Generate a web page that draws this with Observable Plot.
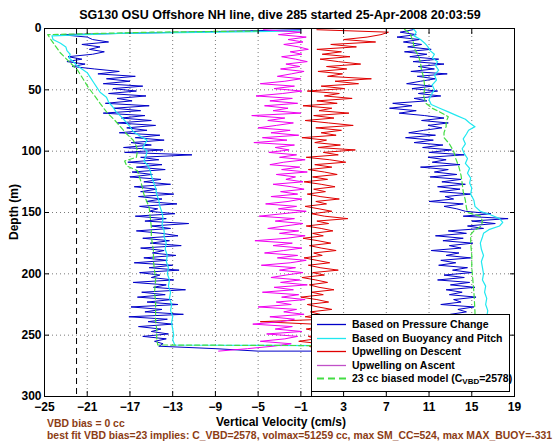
<!DOCTYPE html>
<html><head><meta charset="utf-8">
<script src="https://cdn.jsdelivr.net/npm/d3@7"></script>
<script src="https://cdn.jsdelivr.net/npm/@observablehq/plot@0.6"></script>
<style>
body{margin:0;background:#fff;font-family:"Liberation Sans",Arial,Helvetica,sans-serif;}
#wrap{position:relative;width:560px;height:442px;overflow:hidden;background:#fff;}
#chart{position:absolute;left:0;top:0;}
.t{position:absolute;font-weight:bold;white-space:nowrap;}
#title{left:44px;width:472px;top:8px;text-align:center;font-size:12.5px;line-height:14px;color:#000;}
#xlabel{left:181px;width:200px;top:416px;text-align:center;font-size:12px;line-height:13px;color:#000;}
#ylabel{left:-36px;width:100px;top:205px;text-align:center;font-size:12px;line-height:14px;color:#000;transform:rotate(-90deg);}
.foot{left:47px;font-size:10.4px;line-height:12px;color:#8c3c14;}
#legend{position:absolute;left:311px;top:314px;width:197px;height:76px;border:1px solid #000;background:#fff;}
.lrow{position:absolute;left:0;height:13px;}
.lrow svg{position:absolute;left:5px;top:3px;}
.lrow span{position:absolute;left:40px;top:0;font-size:10.5px;line-height:13px;font-weight:bold;white-space:nowrap;}
.lrow sub{font-size:8px;vertical-align:-2px;}
</style></head>
<body>
<div id="wrap">
  <div id="chart"></div>
  <div id="title" class="t"></div>
  <div id="ylabel" class="t"></div>
  <div id="xlabel" class="t"></div>
  <div id="foot1" class="t foot" style="top:418px"></div>
  <div id="foot2" class="t foot" style="top:430px"></div>
  <div id="legend"></div>
</div>
<script>
// ---------- text ----------
const titleText = "SG130 OSU Offshore NH line, dive 285 started 25-Apr-2008 20:03:59";
const xLabelText = "Vertical Velocity (cm/s)";
const yLabelText = "Depth (m)";
const footLine1 = "VBD bias = 0 cc";
const footLine2 = "best fit VBD bias=23 implies: C_VBD=2578, volmax=51259 cc, max SM_CC=524, max MAX_BUOY=-331";

// ---------- axes ----------
const xTickValues = [-25, -21, -17, -13, -9, -5, -1, 3, 7, 11, 15, 19];
const yTickValues = [0, 50, 100, 150, 200, 250, 300];
const refDashed = [-22];
const refSolid = [0];

// ---------- legend ----------
const legendLabels = ["Based on Pressure Change", "Based on Buoyancy and Pitch", "Upwelling on Descent", "Upwelling on Ascent", "23 cc biased model (C<sub>VBD</sub>=2578)"];
const legendColors = ["#0000c8", "#20e8f0", "#e00000", "#c050c8", "#44dd44"];

// ---------- data (depth in m, velocity in cm/s) ----------
const fineDepth = [
  1,3,5,7,9,11,13,15,17,19,
  21,23,25,27,29,31,33,35,37,39,
  41,43,45,47,49,51,53,55,57,59,
  61,63,65,67,69,71,73,75,77,79,
  81,83,85,87,89,91,93,95,97,99,
  101,103,105,107,109,111,113,115,117,119,
  121,123,125,127,129,131,133,135,137,139,
  141,143,145,147,149,151,153,155,157,159,
  161,163,165,167,169,171,173,175,177,179,
  181,183,185,187,189,191,193,195,197,199,
  201,203,205,207,209,211,213,215,217,219,
  221,223,225,227,229,231,233,235,237,239,
  241,243,245,247,249,251,253,255,257,259,
  261,263];

// Based on pressure change: descent (left) and ascent (right), both listed top to bottom
const pressureDown = [
  -1,-12,-23.5,-21,-20.5,-19,-21.5,-19.8,-20.8,-19.4,
  -20.5,-22.8,-21.5,-22.9,-21.2,-22.4,-20.3,-18,-20,-16.5,
  -19.2,-17,-19.5,-15.8,-18.6,-16.4,-19.0,-15.5,-18.2,-16.8,
  -19.3,-15.2,-18.5,-16.0,-19.5,-15.6,-17.8,-15.0,-18.2,-14.6,
  -17.3,-15.4,-18.0,-14.2,-16.5,-13.8,-16.9,-15.0,-17.6,-13.9,
  -17.5,-11.2,-16.0,-14.3,-17.2,-14.0,-16.4,-13.7,-16.8,-14.9,
  -17.0,-14.1,-15.7,-13.2,-16.6,-14.5,-16.0,-12.9,-16.2,-14.0,
  -15.5,-12.6,-16.1,-14.4,-15.2,-12.8,-16.5,-13.6,-15.6,-11.5,
  -15.0,-13.2,-16.4,-14.0,-12.5,-15.8,-13.3,-15.1,-12.2,-16.0,
  -13.8,-14.9,-12.7,-15.7,-13.5,-16.6,-13.0,-15.2,-12.4,-16.1,
  -14.2,-15.0,-12.9,-16.7,-13.6,-14.8,-11.8,-15.9,-13.7,-16.3,
  -13.1,-15.4,-12.5,-16.9,-14.0,-15.6,-12.0,-17.1,-13.5,-15.3,
  -13.0,-16.2,-14.1,-15.0,-13.4,-15.8,-13.6,-14.7,-13.9,-14.3,
  -9,-5];
const pressureUp = [
  9.5,8.3,9.8,8.0,10.1,8.6,10.3,9.0,11.2,8.7,
  10.8,9.2,11.9,9.5,12.4,10.0,11.5,9.3,12.7,9.9,
  11.6,10.2,8.9,11.3,9.4,11.8,10.0,12.1,9.6,10.8,
  7.6,9.4,7.3,9.8,8.2,10.6,12.4,10.3,12.8,10.9,
  12.2,10.5,9.1,11.6,8.8,11.4,9.6,12.3,10.4,13.1,
  11.0,14.3,10.9,12.6,11.3,13.9,10.2,12.8,11.5,13.6,
  11.1,14.0,12.2,14.4,11.8,13.9,12.0,14.9,12.5,13.3,
  11.0,14.2,12.4,13.6,14.4,16.8,14.2,18.4,15.0,17.2,
  14.6,16.1,12.8,14.5,11.6,14.2,12.3,15.1,12.9,14.0,
  11.2,13.8,12.6,14.9,12.1,13.5,11.9,14.6,13.2,15.0,
  12.4,14.3,11.8,14.8,13.0,15.3,12.6,14.1,12.9,15.4,
  13.3,14.0,12.1,15.2,13.7,14.5,13.0,15.0,13.5,14.8,
  13.2,15.1,13.8,14.6,13.4,15.0,13.9,14.7,14.1,13.6,
  8.0,0.0];

// Upwelling on descent / ascent (listed top to bottom)
const upwellDescent = [
  0.5,7.2,6.5,5.2,3.0,6.0,1.8,4.2,0.5,2.8,
  1.0,3.6,0.8,2.5,4.6,1.4,3.3,0.6,2.9,1.5,
  5.6,2.2,4.4,0.9,3.1,-0.4,2.6,1.2,3.8,0.5,
  2.4,-0.8,1.9,0.7,3.5,0.2,2.1,-0.6,1.6,3.9,
  0.4,2.8,0.9,2.3,-0.9,1.4,0.3,2.7,0.6,4.1,
  1.1,2.5,-0.5,1.7,3.2,0.3,1.9,-0.3,1.2,2.4,
  0.1,1.5,-0.7,0.9,2.2,0.2,1.3,-0.4,0.8,2.6,
  0.4,1.4,-0.6,0.7,1.9,0.0,1.2,3.4,0.5,1.6,
  -0.5,0.9,2.0,0.1,1.1,-0.8,0.6,1.8,-0.2,0.9,
  2.3,0.2,1.0,-0.7,0.5,1.7,-0.3,0.8,2.5,0.1,
  1.2,-0.9,0.4,1.5,-0.2,0.7,2.1,0.0,1.1,-1.0,
  0.5,1.6,-0.4,0.6,1.9,-0.1,0.8,-0.6,1.3,-4.8,
  0.2,1.0,-0.5,0.6,1.7,-0.3,0.4,-1.2,0.9,-0.2,
  0.3,0.0];
const upwellAscent = [
  -4.5,-1.0,-3.1,-0.5,-2.2,-0.8,-2.6,-1.2,-0.3,-2.0,
  -0.9,-2.8,-1.5,-0.4,-2.4,-1.1,-2.9,-0.7,-1.9,-3.2,
  -1.0,-2.5,-4.8,-1.6,-3.5,-0.9,-2.7,-5.2,-1.8,-3.9,
  -1.3,-4.4,-2.2,-3.6,-1.0,-5.6,-2.5,-4.1,-1.7,-3.3,
  -5.0,-2.0,-3.8,-1.2,-4.6,-2.3,-5.4,-1.6,-3.4,-2.1,
  -4.0,-1.4,-3.0,-0.6,-2.6,-3.9,-1.1,-2.8,-0.4,-3.3,
  -1.5,-2.4,-0.8,-3.6,-1.9,-0.7,-2.9,-1.3,-3.8,-0.9,
  -2.2,-4.3,-1.4,-3.1,-0.5,-2.7,-4.9,-1.6,-3.4,-0.8,
  -2.5,-4.1,-1.2,-3.0,-0.6,-2.3,-5.3,-1.8,-3.6,-0.9,
  -2.6,-4.4,-1.3,-3.2,-0.5,-2.0,-4.7,-1.5,-3.0,-0.8,
  -2.4,-3.8,-1.1,-2.9,-0.4,-3.5,-1.7,-4.6,-1.2,-2.8,
  -0.6,-3.3,-1.9,-5.0,-1.4,-2.6,-0.7,-3.9,-1.6,-2.9,
  -5.5,-1.8,-3.4,-0.9,-4.2,-1.3,-2.5,-4.8,-1.9,-3.6,
  -6.0,-8.7];

// Based on buoyancy and pitch
const buoyDownDepth = [2,4,6,9,12,15,18,21,24,27,30,33,36,40,44,48,52,56,60,64,68,72,76,80,84,88,91,94,97,100,104,108,112,116,120,125,130,135,140,145,150,155,160,165,170,175,180,185,190,195,200,205,210,215,220,225,230,235,240,245,250,254,258];
const buoyDown = [-1,-18,-24.3,-24.2,-23.5,-23.0,-22.9,-22.6,-22.7,-22.3,-22.0,-21.5,-21.0,-20.7,-20.4,-20.1,-19.8,-19.2,-19.0,-18.6,-18.3,-17.8,-17.4,-17.0,-16.7,-16.0,-15.4,-15.6,-15.8,-15.4,-15.5,-15.7,-15.3,-15.1,-15.0,-14.8,-14.6,-14.5,-14.3,-14.2,-14.0,-13.9,-14.0,-13.8,-13.8,-13.6,-13.7,-13.5,-13.6,-13.4,-13.5,-13.3,-13.4,-13.2,-13.3,-13.1,-13.2,-13.0,-13.1,-13.0,-12.9,-13.0,-12.8];
const buoyUpDepth = [0,3,6,9,12,15,18,21,24,27,30,34,38,42,46,50,54,58,62,65,68,71,74,77,80,83,86,90,94,98,102,106,110,114,118,122,126,130,135,140,145,149,152,155,158,161,164,167,170,175,180,185,190,195,200,205,210,215,220,225,230,235,240,245,250,255,259];
const buoyUp = [9.5,9.8,9.6,10.2,10.6,10.9,11.1,11.5,11.3,11.8,11.6,11.9,11.5,11.7,11.3,11.5,11.2,11.0,11.2,12.0,12.8,13.6,14.4,14.8,15.3,14.7,14.5,14.2,14.4,14.1,14.3,14.6,14.4,14.8,14.6,14.9,14.8,15.0,14.9,15.2,15.3,15.8,16.8,17.6,17.9,17.6,16.6,16.1,16.0,15.8,15.9,16.1,15.9,16.0,16.1,16.0,16.3,16.2,16.4,16.3,16.5,16.4,16.6,16.5,16.6,16.4,16.0];

// 23 cc biased model
const modelDownDepth = [2,3,5,9,14,20,27,34,41,48,55,61,69,75,80,86,91,96,100,105,108,112,116,124,135,146,154,162,170,181,190,197,205,215,222,230,238,245,252,258];
const modelDown = [-5,-15,-24.7,-24.4,-24.0,-23.5,-22.7,-21.9,-21.4,-20.9,-20.3,-19.8,-19.1,-18.4,-17.9,-17.3,-16.7,-16.4,-16.3,-16.4,-17.5,-17.3,-16.3,-16.0,-15.7,-15.2,-15.1,-15.0,-15.0,-14.8,-14.8,-14.7,-14.6,-14.7,-14.6,-14.6,-14.6,-14.5,-14.5,-14.4];
const modelUpDepth = [0,4,10,16,22,28,34,40,48,55,61,65,68,72,76,80,85,89,94,100,106,113,120,126,133,140,146,150,153,157,161,165,168,175,185,195,205,215,231,245,259];
const modelUp = [8.6,9.2,9.5,9.6,10.0,10.2,10.3,10.5,10.6,10.5,10.7,11.3,12.0,12.8,12.6,12.6,12.4,12.4,12.9,13.3,13.5,13.8,14.0,14.1,14.2,14.4,14.5,14.6,15.8,16.0,15.9,15.2,14.9,14.9,15.0,15.0,15.1,15.2,15.3,15.3,15.3];

// ---------- build tables ----------
function pts(depths, vals) { return depths.map((d, i) => ({d, v: vals[i]})); }
function dive(downD, downV, upD, upV) { return pts(downD, downV).concat(pts(upD, upV).reverse()); }
const pressureLine = dive(fineDepth, pressureDown, fineDepth, pressureUp);
const buoyLine = dive(buoyDownDepth, buoyDown, buoyUpDepth, buoyUp);
const modelLine = dive(modelDownDepth, modelDown, modelUpDepth, modelUp);
const descentLine = pts(fineDepth, upwellDescent);
const ascentLine = pts(fineDepth, upwellAscent).reverse();

const innerX = xTickValues.slice(1, -1);
const innerY = yTickValues.slice(1, -1);
const font = {fontSize: 12, fontWeight: "bold"};

const chart = Plot.plot({
  width: 560, height: 442,
  marginLeft: 44, marginRight: 46, marginTop: 28, marginBottom: 46,
  style: {fontFamily: "Liberation Sans, Arial, Helvetica, sans-serif", background: "transparent", overflow: "visible"},
  x: {domain: [-25, 19]},
  y: {domain: [0, 300], reverse: true},
  marks: [
    Plot.gridX(innerX, {stroke: "#7a7a7a", strokeOpacity: 1, strokeDasharray: "1,3"}),
    Plot.gridY(innerY, {stroke: "#7a7a7a", strokeOpacity: 1, strokeDasharray: "1,3"}),
    Plot.ruleX(refDashed, {stroke: "black", strokeWidth: 1, strokeDasharray: "6,4"}),
    Plot.line(pressureLine, {x: "v", y: "d", stroke: legendColors[0], strokeWidth: 1}),
    Plot.line(buoyLine, {x: "v", y: "d", stroke: legendColors[1], strokeWidth: 1.2}),
    Plot.line(descentLine, {x: "v", y: "d", stroke: legendColors[2], strokeWidth: 1}),
    Plot.line(ascentLine, {x: "v", y: "d", stroke: "#f000f0", strokeWidth: 1}),
    Plot.line(modelLine, {x: "v", y: "d", stroke: legendColors[4], strokeWidth: 1.2, strokeDasharray: "5,3"}),
    Plot.ruleX(refSolid, {stroke: "black", strokeWidth: 1}),
    Plot.frame({stroke: "black", strokeWidth: 1}),
    Plot.axisX(xTickValues, {anchor: "bottom", tickSize: 0, tickPadding: 6, label: null, ...font}),
    Plot.axisX(xTickValues, {anchor: "bottom", tickSize: -5, tickFormat: () => "", label: null}),
    Plot.axisX(xTickValues, {anchor: "top", tickSize: -5, tickFormat: () => "", label: null}),
    Plot.axisY(yTickValues, {anchor: "left", tickSize: 0, tickPadding: 3, label: null, ...font}),
    Plot.axisY(yTickValues, {anchor: "left", tickSize: -5, tickFormat: () => "", label: null}),
    Plot.axisY(yTickValues, {anchor: "right", tickSize: -5, tickFormat: () => "", label: null})
  ]
});
document.getElementById("chart").appendChild(chart);

document.getElementById("title").textContent = titleText;
document.getElementById("xlabel").textContent = xLabelText;
document.getElementById("ylabel").textContent = yLabelText;
document.getElementById("foot1").textContent = footLine1;
document.getElementById("foot2").textContent = footLine2;

// legend
const legend = document.getElementById("legend");
legendLabels.forEach((lab, i) => {
  const row = document.createElement("div");
  row.className = "lrow";
  row.style.top = (3 + i * 13.5) + "px";
  row.style.width = "100%";
  const dash = i === 4 ? ' stroke-dasharray="7,4"' : "";
  const sw = i === 4 ? 2 : 1.3;
  row.innerHTML = `<svg width="30" height="7"><line x1="0" x2="29" y1="3.5" y2="3.5" stroke="${legendColors[i]}" stroke-width="${sw}"${dash}/></svg><span>${lab}</span>`;
  legend.appendChild(row);
});
</script>
</body></html>
